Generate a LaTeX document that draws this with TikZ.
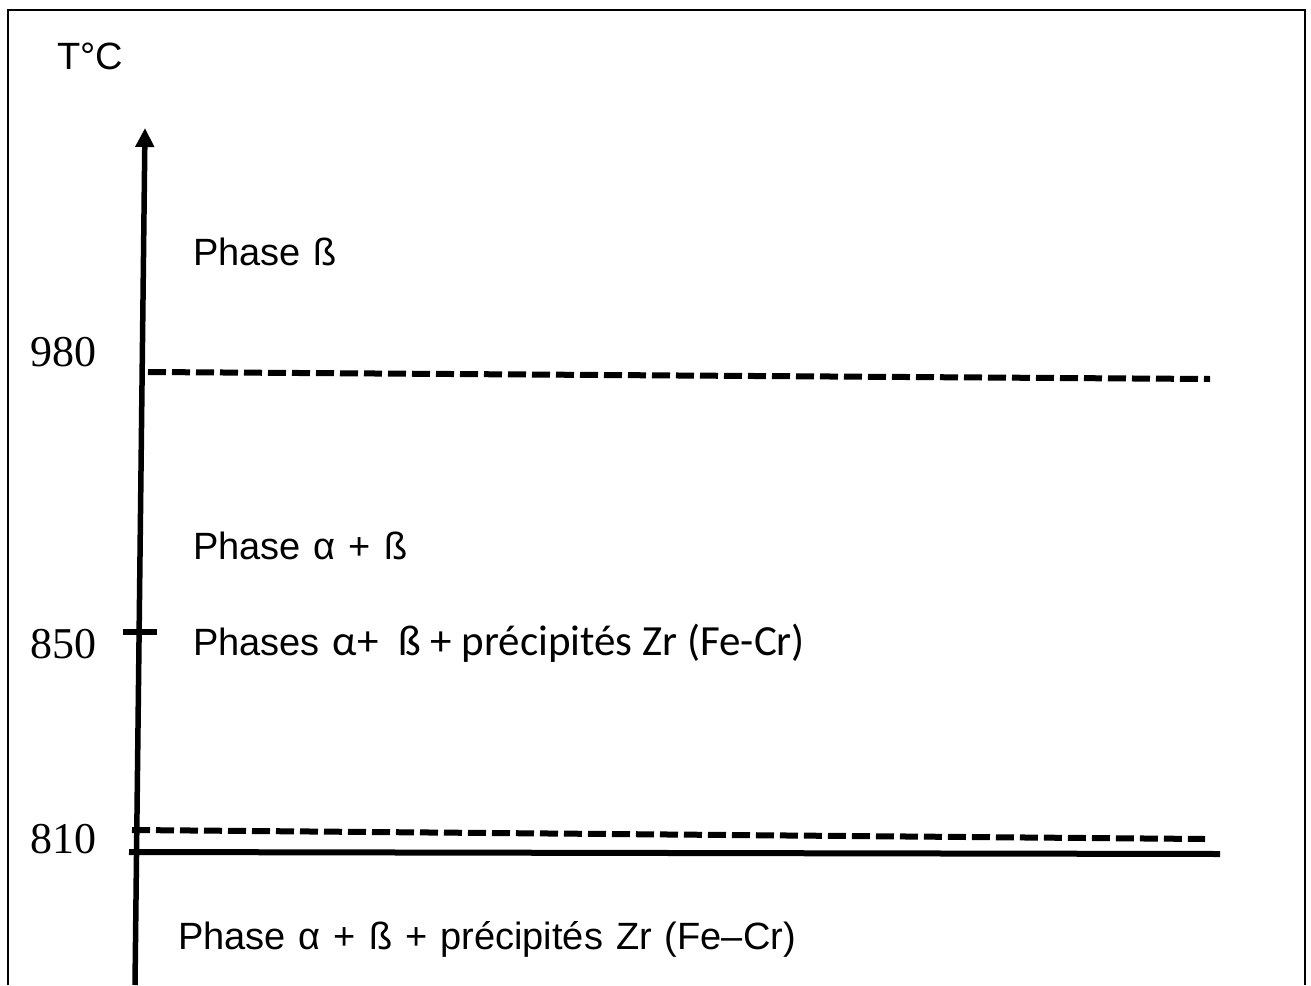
\documentclass[tikz,border=0pt]{standalone}
\usepackage{fontspec}
\setmainfont{Liberation Sans}
\newfontfamily\serifnum{Liberation Serif}
\newfontfamily\calfont{Carlito}
\usetikzlibrary{arrows.meta}
\newcommand\widesp{\spaceskip=13pt\relax}
\begin{document}
\begin{tikzpicture}[x=1pt,y=-1pt,
  lbl/.style={anchor=base west, inner sep=0pt, font=\fontsize{38}{44}\selectfont, execute at begin node=\widesp},
  num/.style={anchor=base west, inner sep=0pt, font=\serifnum\fontsize{44}{50}\selectfont},
  dline/.style={line width=6pt, dash pattern=on 18pt off 6pt},
  sline/.style={line width=6pt},
  frame/.style={line width=2pt}]
\useasboundingbox (0,0) rectangle (1311,985);
% frame
\coordinate (f1) at (8,985);
\coordinate (f2) at (8,10);
\coordinate (f3) at (1305,10);
\coordinate (f4) at (1305,985);
\draw[frame] (f1) -- (f2) -- (f3) -- (f4);
% axis
\coordinate (abot) at (135,985);
\coordinate (atop) at (145,128);
\draw[line width=5.5pt, -{Triangle[length=19pt,width=18pt]}] (abot) -- (atop);
% lines
\coordinate (d1a) at (148,372);
\coordinate (d1b) at (1210,379);
\draw[dline] (d1a) -- (d1b);
\coordinate (tk1) at (123,632);
\coordinate (tk2) at (157,632);
\draw[sline] (tk1) -- (tk2);
\coordinate (d2a) at (132,830);
\coordinate (d2b) at (1205,839);
\draw[dline] (d2a) -- (d2b);
\coordinate (s1) at (129,852);
\coordinate (s2) at (1220,854);
\draw[sline] (s1) -- (s2);
% labels
\node[lbl] (tc) at (57,69) {T°C};
\node[lbl] (pb) at (193,265) {Phase ß};
\node[lbl] (pab) at (193,559) {Phase α + ß};
\node[lbl] (pabz) at (193,655) {Phases {\calfont\fontsize{43}{48}\selectfont\spaceskip=0pt α+\ \ ß + précipités Zr (Fe-Cr)}};
\node[lbl] (pabz2) at (178,949) {Phase α + ß + précipités Zr (Fe–Cr)};
\node[num] (n980) at (30,366) {980};
\node[num] (n850) at (30,658) {850};
\node[num] (n810) at (30,853) {810};
\end{tikzpicture}
\end{document}
